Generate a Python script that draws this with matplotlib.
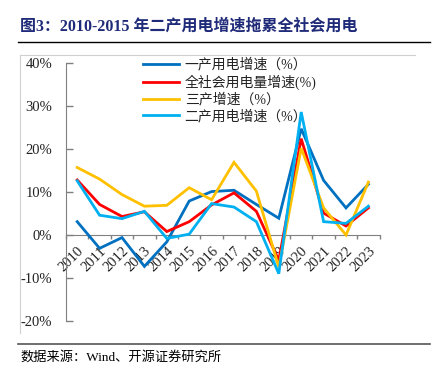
import numpy as np
import matplotlib
matplotlib.use('Agg')
import matplotlib.pyplot as plt
from matplotlib.lines import Line2D

# data (%)
years=['2010','2011','2012','2013','2014','2015','2016','2017','2018','2019','2020','2021','2022','2023']
primary  =[3.1,-3.1,-0.6,-7.3,-1.6,7.9,10.1,10.4,7.1,3.9,24.7,12.7,6.3,11.8]
total    =[12.8,7.1,4.3,5.4,0.8,3.1,7.0,9.8,5.5,-5.9,22.4,5.1,2.1,6.3]
tertiary =[15.7,13.0,9.4,6.7,6.9,11.0,8.2,16.9,10.2,-7.5,20.2,6.3,0.0,12.3]
secondary=[12.6,4.6,3.8,5.5,-0.8,0.2,7.3,6.5,3.1,-9.0,28.6,3.1,2.7,6.7]
labels=['一产用电增速（%）','全社会用电量增速(%)','三产增速（%）','二产用电增速（%）']
colors=['#0070C0','#FF0000','#FFC000','#00B0F0']

W,H=432,378
fig=plt.figure(figsize=(W/100,H/100),dpi=100)
mix=['Liberation Serif','Noto Sans CJK SC']

def fx(px): return px/W
def fy(py): return 1-py/H

# title, rules and frame
fig.text(fx(20),fy(27),'图3：2010-2015 年二产用电增速拖累全社会用电',family=mix,
         fontsize=11.5,fontweight='bold',color='#1F2A78',va='center',ha='left')
fig.add_artist(Line2D([fx(18),fx(430)],[fy(42),fy(42)],color='black',lw=1.0))
fig.add_artist(Line2D([fx(20),fx(415)],[fy(55),fy(55)],color='#D0D0D0',lw=0.8))
fig.add_artist(Line2D([fx(20),fx(20)],[fy(55),fy(333)],color='#D0D0D0',lw=0.8))
fig.add_artist(Line2D([fx(18),fx(430)],[fy(344),fy(344)],color='#555555',lw=1.2))
fig.text(fx(20),fy(357),'数据来源：Wind、开源证券研究所',family=mix,fontsize=9.5,
         color='black',va='center',ha='left')

ax=fig.add_axes([fx(66),fy(321),fx(313.6),(321-63)/H])
# spine position first: set_position resets the ticks
for s in ['top','right']:
  ax.spines[s].set_visible(False)
ax.spines['left'].set_color('#808080')
ax.spines['bottom'].set_color('#808080')
ax.spines['bottom'].set_position(('data',0))
ax.patch.set_alpha(0)

x=np.arange(len(years))
for ys,c,l in zip([primary,total,tertiary,secondary],colors,labels):
  ax.plot(x,ys,color=c,lw=2.0,label=l,solid_joinstyle='miter',zorder=3)

ax.set_xlim(-0.5,len(years)-0.5)
ax.set_ylim(-20,40)
ax.set_yticks(np.arange(-20,41,10))
ax.set_yticklabels([f'{v}%' for v in range(-20,41,10)],family='Liberation Serif',fontsize=10.5)
ax.tick_params(axis='y',direction='in',length=5,width=1,color='#808080',pad=10,labelcolor='#222222')
ax.set_xticks(x)
ax.set_xticks(np.arange(-0.5,len(years)),minor=True)
ax.tick_params(axis='x',which='major',length=0,pad=7,labelcolor='#222222')
ax.tick_params(axis='x',which='minor',direction='out',length=3,width=1,color='#808080')
ax.set_xticklabels(years,family='Liberation Serif',fontsize=10.5,rotation=45,
                   ha='right',va='top',rotation_mode='anchor')

ax.legend(loc='upper left',bbox_to_anchor=((143-66)/313.6,(321-58)/258),frameon=False,
          borderaxespad=0,borderpad=0,handlelength=2.6,handletextpad=0.4,labelspacing=0.2,
          prop={'family':mix,'size':10},labelcolor='#222222')

fig.savefig('out.png',dpi=100)
